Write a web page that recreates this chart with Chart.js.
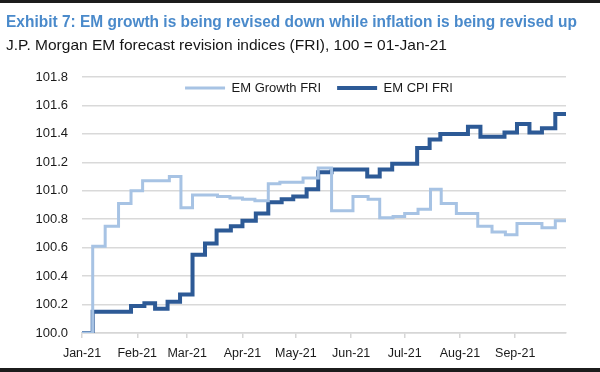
<!DOCTYPE html>
<html>
<head>
<meta charset="utf-8">
<script src="https://cdn.jsdelivr.net/npm/chart.js@4.4.0/dist/chart.umd.min.js"></script>
<style>
  html, body { margin:0; padding:0; background:#fff; }
  #wrap { position:relative; width:600px; height:372px; overflow:hidden; background:#fff; }
  #topBar { position:absolute; left:0; top:0; width:600px; height:3px; background:#1c1c1c; }
  #bottomBar { position:absolute; left:0; top:368px; width:600px; height:4px; background:#1c1c1c; }
  .ttl { position:absolute; left:6px; white-space:nowrap; transform-origin:0 0; font-family:"Liberation Sans Narrow","Liberation Sans",Arial,sans-serif; line-height:1; }
  #title { top:13px; font-size:17px; font-weight:bold; color:#4a8acb; }
  #subtitle { top:38px; font-size:14.5px; color:#151515; }
  #myChart { position:absolute; left:0; top:0; }
</style>
</head>
<body>
<div id="wrap">
  <canvas id="myChart" width="600" height="372"></canvas>
  <div id="topBar"></div>
  <div id="bottomBar"></div>
  <div id="title" class="ttl" data-w="571">Exhibit 7: EM growth is being revised down while inflation is being revised up</div>
  <div id="subtitle" class="ttl" data-w="441">J.P. Morgan EM forecast revision indices (FRI), 100 = 01-Jan-21</div>
</div>
<script>
// month ticks (days since 01-Jan-21)
var monthLabels = ['Jan-21', 'Feb-21', 'Mar-21', 'Apr-21', 'May-21', 'Jun-21', 'Jul-21', 'Aug-21', 'Sep-21'];
var monthStarts = [0, 31, 59, 90, 120, 151, 181, 212, 243];
var lastDay = 271.5;

// EM Growth FRI, value from each day on
var growthDays = [0, 6, 13, 20.5, 27.5, 34, 49, 55.5, 62, 69, 76, 83, 90, 97, 104.5, 111, 124, 132.5, 140, 152, 160.5, 167, 174.5, 181, 188.5, 195.5, 201.5, 210, 222, 230, 237.5, 244, 258, 265.5, 271.5];
var growthValues = [100.00, 100.61, 100.75, 100.91, 101.00, 101.07, 101.10, 100.88, 100.97, 100.97, 100.96, 100.95, 100.94, 100.93, 101.05, 101.06, 101.09, 101.16, 100.86, 100.96, 100.94, 100.81, 100.82, 100.84, 100.87, 101.01, 100.91, 100.84, 100.75, 100.71, 100.69, 100.77, 100.74, 100.79, 100.79];

// EM CPI FRI, value from each day on
var cpiDays = [0, 6, 27.5, 35, 41, 48, 55, 62, 69, 75.5, 83.5, 90, 97.5, 104.5, 112, 118.5, 126, 132.5, 140, 160, 167, 174, 188, 195, 201, 216.5, 223.5, 237, 244, 251, 258, 265.5, 271.5];
var cpiValues = [100.00, 100.15, 100.19, 100.21, 100.17, 100.22, 100.27, 100.55, 100.63, 100.72, 100.75, 100.79, 100.84, 100.92, 100.94, 100.96, 101.01, 101.13, 101.15, 101.10, 101.15, 101.19, 101.30, 101.36, 101.40, 101.45, 101.38, 101.41, 101.47, 101.41, 101.44, 101.54, 101.54];

var growthColor = '#a7c3e4';
var cpiColor = '#2d5a96';

function toPoints(days, vals){
    var pts = [];
    for (var i = 0; i < days.length; i++){
        pts.push({x: days[i], y: vals[i]});
    }
    return pts;
}

// squeeze the heading texts to the width they have in the exhibit
document.querySelectorAll('.ttl').forEach(function(el){
    var w = el.getBoundingClientRect().width;
    var target = parseFloat(el.getAttribute('data-w'));
    el.style.transform = 'scaleX(' + (target / w) + ')';
});

// legend sits inside the plot, just under the top gridline
var legendPad = 16;
var legendShift = 36;
var legendNudge = {
    id: 'legendNudge',
    afterLayout: function(chart){
        var lg = chart.legend;
        var h = lg.bottom - lg.top;
        lg.top = 88 - 6.5 - legendPad;
        lg.bottom = lg.top + h;
        lg.left += legendShift;
        lg.right += legendShift;
    }
};

var ctx = document.getElementById('myChart').getContext('2d');
var lineChart = new Chart(ctx, {
    type: 'line',
    data: {
        datasets: [{
            label: 'EM Growth FRI',
            data: toPoints(growthDays, growthValues),
            borderColor: growthColor,
            backgroundColor: growthColor,
            borderWidth: 3,
            pointRadius: 0,
            stepped: 'before',
            fill: false
        }, {
            label: 'EM CPI FRI',
            data: toPoints(cpiDays, cpiValues),
            borderColor: cpiColor,
            backgroundColor: cpiColor,
            borderWidth: 4,
            pointRadius: 0,
            stepped: 'before',
            fill: false
        }]
    },
    options: {
        responsive: false,
        animation: false,
        layout: { padding: { top: 38, right: 34, bottom: 0, left: 0 } },
        plugins: {
            legend: {
                position: 'top',
                align: 'center',
                labels: {
                    usePointStyle: true,
                    pointStyle: 'line',
                    pointStyleWidth: 40,
                    padding: legendPad,
                    color: '#1a1a1a',
                    font: { family: 'Liberation Sans', size: 13 }
                }
            },
            tooltip: { enabled: false }
        },
        scales: {
            x: {
                type: 'linear',
                min: 0,
                max: lastDay,
                afterBuildTicks: function(scale){
                    scale.ticks = monthStarts.map(function(v){ return {value: v}; });
                },
                afterFit: function(scale){ scale.height = 372 - 333; },
                ticks: {
                    autoSkip: false,
                    maxRotation: 0,
                    padding: 8,
                    color: '#1a1a1a',
                    font: { family: 'Liberation Sans', size: 12.5 },
                    callback: function(v, i){ return monthLabels[i]; }
                },
                grid: { drawOnChartArea: false, drawTicks: true, tickLength: 5, color: '#d6d6d6', lineWidth: 1.5 },
                border: { color: '#d6d6d6', width: 1.5 }
            },
            y: {
                min: 100,
                max: 101.8,
                afterFit: function(scale){ scale.width = 82; },
                ticks: {
                    stepSize: 0.2,
                    padding: 14,
                    color: '#1a1a1a',
                    font: { family: 'Liberation Sans', size: 13 },
                    callback: function(v){ return v.toFixed(1); }
                },
                grid: { color: '#d9d9d9', lineWidth: 1.5, drawTicks: false },
                border: { display: false }
            }
        }
    },
    plugins: [legendNudge]
});
</script>
</body>
</html>
